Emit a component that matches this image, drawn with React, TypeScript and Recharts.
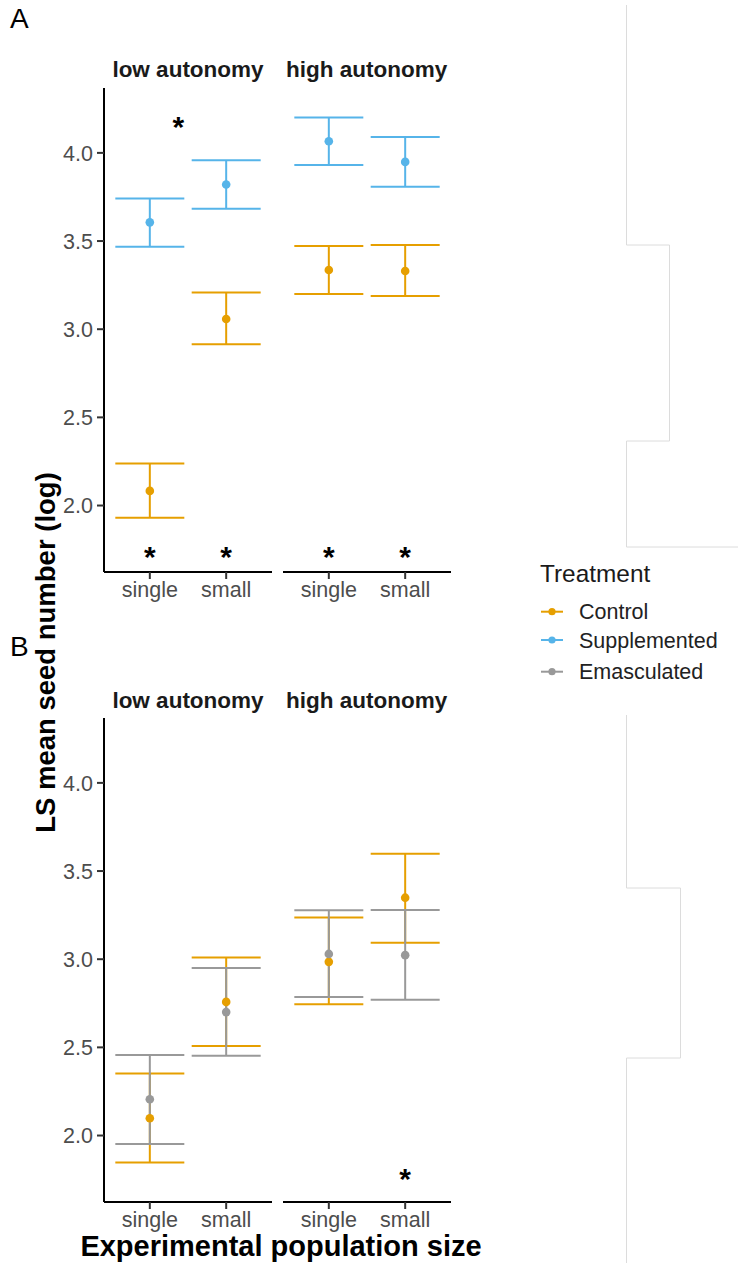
import React from 'react';
import { ScatterChart, Scatter, XAxis, YAxis, ErrorBar } from 'recharts';

const CONTROL = '#E69F00';
const SUPPLEMENTED = '#56B4E9';
const EMASCULATED = '#999999';
const FONT = '"Liberation Sans", Arial, sans-serif';

const popSizes = ['single', 'small'];
const sizePos = [1, 2];
const facetNames = ['low autonomy', 'high autonomy'];
const yTicks = [2.0, 2.5, 3.0, 3.5, 4.0];
const yDomain = [1.623, 4.368];

// order: low single, low small, high single, high small
const aControlMean = [2.083, 3.058, 3.336, 3.33];
const aControlLow = [1.93, 2.915, 3.2, 3.189];
const aControlHigh = [2.238, 3.208, 3.472, 3.477];
const aSupplMean = [3.606, 3.821, 4.066, 3.949];
const aSupplLow = [3.468, 3.683, 3.932, 3.808];
const aSupplHigh = [3.742, 3.958, 4.201, 4.09];

const bControlMean = [2.098, 2.758, 2.985, 3.349];
const bControlLow = [1.847, 2.508, 2.744, 3.094];
const bControlHigh = [2.352, 3.01, 3.236, 3.598];
const bEmascMean = [2.206, 2.7, 3.03, 3.023];
const bEmascLow = [1.952, 2.452, 2.785, 2.77];
const bEmascHigh = [2.457, 2.95, 3.277, 3.279];

// significance stars [x, y]
const aLowStars = [[1, 1.727], [2, 1.727], [1.373, 4.164]];
const aHighStars = [[1, 1.727], [2, 1.727]];
const bLowStars: number[][] = [];
const bHighStars = [[2, 1.768]];

const Y_W = 104;
const PLOT_W = 168;
const PLOT_H = 484;
const X_H = 44;

type Pt = { x: number; y: number; err: number[] };
type Series = { name: string; color: string; data: Pt[] };

function buildSeries(mean: number[], low: number[], high: number[], facet: number): Pt[] {
  return sizePos.map((x, i) => {
    const k = facet * 2 + i;
    return { x, y: mean[k], err: [mean[k] - low[k], high[k] - mean[k]] };
  });
}

const starShape = (p: any) => (
  <text x={p.cx} y={p.cy + 13} textAnchor="middle" fontSize={30} fontWeight="bold" fontFamily={FONT} fill="#000">
    *
  </text>
);

function Facet({ left, top, showY, series, stars }: { left: number; top: number; showY: boolean; series: Series[]; stars: number[][] }) {
  const starData = stars.map(([x, y]) => ({ x, y }));
  return (
    <div style={{ position: 'absolute', left, top }}>
      <ScatterChart
        width={(showY ? Y_W : 0) + PLOT_W}
        height={PLOT_H + X_H}
        margin={{ top: 0, right: 0, bottom: 0, left: 0 }}
      >
        <XAxis
          type="number"
          dataKey="x"
          domain={[0.4, 2.6]}
          ticks={sizePos}
          allowDataOverflow
          tickFormatter={(v) => popSizes[v - 1]}
          height={X_H}
          axisLine={{ stroke: '#000', strokeWidth: 2 }}
          tickLine={{ stroke: '#333', strokeWidth: 2 }}
          tickSize={7}
          tickMargin={3}
          tick={{ fontSize: 21.5, fill: '#4D4D4D', fontFamily: FONT }}
        />
        <YAxis
          type="number"
          dataKey="y"
          domain={yDomain}
          ticks={yTicks}
          allowDataOverflow
          hide={!showY}
          width={Y_W}
          tickFormatter={(v) => v.toFixed(1)}
          axisLine={{ stroke: '#000', strokeWidth: 2 }}
          tickLine={{ stroke: '#333', strokeWidth: 2 }}
          tickSize={7}
          tickMargin={4}
          tick={{ fontSize: 21.5, fill: '#4D4D4D', fontFamily: FONT }}
        />
        {series.map((s) => (
          <Scatter key={s.name + '-err'} data={s.data} shape={() => <g />} isAnimationActive={false}>
            <ErrorBar dataKey="err" direction="y" width={34.5} stroke={s.color} strokeWidth={2} isAnimationActive={false} />
          </Scatter>
        ))}
        {series.map((s) => (
          <Scatter
            key={s.name + '-pt'}
            data={s.data}
            fill={s.color}
            isAnimationActive={false}
            shape={(p: any) => <circle cx={p.cx} cy={p.cy} r={4.3} fill={s.color} />}
          />
        ))}
        {starData.length > 0 && <Scatter data={starData} shape={starShape} isAnimationActive={false} />}
      </ScatterChart>
    </div>
  );
}

const legendItems = [
  { name: 'Control', color: CONTROL, y: 611.7 },
  { name: 'Supplemented', color: SUPPLEMENTED, y: 640 },
  { name: 'Emasculated', color: EMASCULATED, y: 671.7 },
];

export default function App() {
  const aSeries = (f: number): Series[] => [
    { name: 'Control', color: CONTROL, data: buildSeries(aControlMean, aControlLow, aControlHigh, f) },
    { name: 'Supplemented', color: SUPPLEMENTED, data: buildSeries(aSupplMean, aSupplLow, aSupplHigh, f) },
  ];
  const bSeries = (f: number): Series[] => [
    { name: 'Control', color: CONTROL, data: buildSeries(bControlMean, bControlLow, bControlHigh, f) },
    { name: 'Emasculated', color: EMASCULATED, data: buildSeries(bEmascMean, bEmascLow, bEmascHigh, f) },
  ];

  return (
    <div style={{ position: 'absolute', left: 0, top: 0, width: 738, height: 1263, background: '#fff', overflow: 'hidden' }}>
      <Facet left={0} top={88} showY series={aSeries(0)} stars={aLowStars} />
      <Facet left={283} top={88} showY={false} series={aSeries(1)} stars={aHighStars} />
      <Facet left={0} top={718} showY series={bSeries(0)} stars={bLowStars} />
      <Facet left={283} top={718} showY={false} series={bSeries(1)} stars={bHighStars} />

      <svg width={738} height={1263} style={{ position: 'absolute', left: 0, top: 0, pointerEvents: 'none' }} fontFamily={FONT}>
        <path d="M626.5 5 V245 H669.5 V441 H626.5 V547 H738" fill="none" stroke="#dcdcdc" strokeWidth={1} />
        <path d="M626.5 715 V888 H680.5 V1058 H626.5 V1263" fill="none" stroke="#dcdcdc" strokeWidth={1} />

        <text x={10} y={28} fontSize={28} fill="#000">A</text>
        <text x={10} y={656} fontSize={28} fill="#000">B</text>

        {facetNames.map((n, i) => (
          <text key={'a' + n} x={i === 0 ? 188 : 366.7} y={77.3} fontSize={22.5} fontWeight="bold" textAnchor="middle" fill="#1A1A1A">
            {n}
          </text>
        ))}
        {facetNames.map((n, i) => (
          <text key={'b' + n} x={i === 0 ? 188 : 366.7} y={708.3} fontSize={22.5} fontWeight="bold" textAnchor="middle" fill="#1A1A1A">
            {n}
          </text>
        ))}

        <text transform="translate(55 652.5) rotate(-90)" fontSize={27.5} fontWeight="bold" textAnchor="middle" fill="#000">
          LS mean seed number (log)
        </text>
        <text x={281} y={1256} fontSize={29} fontWeight="bold" textAnchor="middle" fill="#000">
          Experimental population size
        </text>

        <text x={540} y={581.7} fontSize={24.4} fill="#1A1A1A">Treatment</text>
        {legendItems.map((it) => (
          <g key={it.name}>
            <line x1={541} x2={563} y1={it.y} y2={it.y} stroke={it.color} strokeWidth={2} />
            <circle cx={552} cy={it.y} r={3.6} fill={it.color} />
            <text x={579} y={it.y + 7.6} fontSize={21.5} fill="#222">{it.name}</text>
          </g>
        ))}
      </svg>
    </div>
  );
}
